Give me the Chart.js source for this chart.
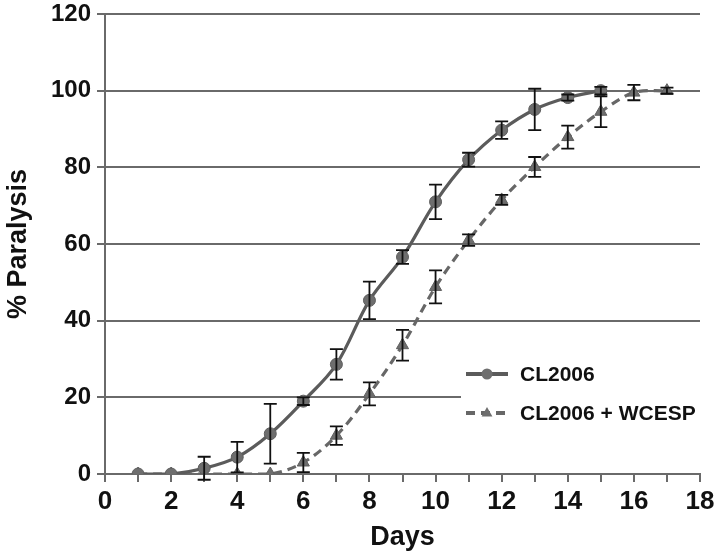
<!DOCTYPE html>
<html>
<head>
<meta charset="utf-8">
<script src="https://cdn.jsdelivr.net/npm/chart.js@4.4.1/dist/chart.umd.min.js"></script>
<style>
  html, body { margin: 0; padding: 0; background: #ffffff; }
  #wrap { width: 720px; height: 558px; position: relative; }
</style>
</head>
<body>
<div id="wrap"><canvas id="c" width="720" height="558"></canvas></div>
<script>
// ---- data ----
const daysCL = [1, 2, 3, 4, 5, 6, 7, 8, 9, 10, 11, 12, 13, 14, 15];
const cl2006 = [0, 0, 1.5, 4.4, 10.5, 19, 28.6, 45.3, 56.6, 71, 82, 89.7, 95.1, 98.2, 100];
const cl2006Err = [0, 0, 3, 4, 7.8, 1, 4, 4.9, 1.8, 4.5, 1.8, 2.3, 5.4, 0.8, 1];

const daysW = [1, 2, 3, 4, 5, 6, 7, 8, 9, 10, 11, 12, 13, 14, 15, 16, 17];
const wcesp = [0, 0, 0, 0, 0, 3, 10, 20.9, 33.6, 48.8, 61, 71.5, 80.1, 87.9, 94.5, 99.5, 100];
const wcespErr = [0, 0, 0, 0, 0, 2.5, 2.4, 3, 4, 4.3, 1.5, 1.3, 2.6, 3, 4, 2, 0.8];

const seriesLabels = ['CL2006', 'CL2006 + WCESP'];
const xTicks = [0, 2, 4, 6, 8, 10, 12, 14, 16, 18];
const yTicks = [0, 20, 40, 60, 80, 100, 120];

const FONT = "'Liberation Sans', Arial, sans-serif";
const LINE = '#5b5b5b';
const MARK = '#6e6e6e';
const GRID = '#6a6a6a';

const toXY = (xs, ys) => xs.map((x, i) => ({ x: x, y: ys[i] }));

// error bars drawn through the chart scales
const errorBars = {
  id: 'errorBars',
  afterDatasetsDraw(chart) {
    const ctx = chart.ctx;
    const xs = chart.scales.x, ys = chart.scales.y;
    ctx.save();
    ctx.strokeStyle = '#111111';
    ctx.lineWidth = 1.8;
    chart.data.datasets.forEach(ds => {
      (ds.errors || []).forEach((e, i) => {
        if (!e) return;
        const p = ds.data[i];
        const px = xs.getPixelForValue(p.x);
        const top = ys.getPixelForValue(p.y + e);
        const bot = ys.getPixelForValue(p.y - e);
        ctx.beginPath();
        ctx.moveTo(px, top); ctx.lineTo(px, bot);
        ctx.moveTo(px - 6.5, top); ctx.lineTo(px + 6.5, top);
        ctx.moveTo(px - 6.5, bot); ctx.lineTo(px + 6.5, bot);
        ctx.stroke();
      });
    });
    ctx.restore();
  }
};

// legend in the lower right of the plot, drawn from dataset styles
const customLegend = {
  id: 'customLegend',
  afterDraw(chart) {
    const ctx = chart.ctx;
    const x0 = 466, x1 = 508, tx = 520;
    const rows = [374, 413];
    ctx.save();
    ctx.fillStyle = '#ffffff';
    ctx.fillRect(461, 348, 245, 88);
    chart.data.datasets.forEach((ds, i) => {
      const y = rows[i];
      ctx.strokeStyle = ds.borderColor;
      ctx.lineWidth = ds.borderWidth + 0.8;
      ctx.setLineDash(ds.borderDash || []);
      ctx.beginPath(); ctx.moveTo(x0, y); ctx.lineTo(x1, y); ctx.stroke();
      ctx.setLineDash([]);
      ctx.fillStyle = ds.pointBackgroundColor;
      const cx = (x0 + x1) / 2;
      ctx.beginPath();
      if (ds.pointStyle === 'triangle') {
        const r = 6;
        ctx.moveTo(cx, y - r); ctx.lineTo(cx + r * 0.9, y + r * 0.6); ctx.lineTo(cx - r * 0.9, y + r * 0.6);
        ctx.closePath();
      } else {
        ctx.arc(cx, y, 5.5, 0, Math.PI * 2);
      }
      ctx.fill();
      ctx.fillStyle = '#111111';
      ctx.font = "bold 21px " + FONT;
      ctx.textBaseline = 'middle';
      ctx.fillText(ds.label, tx, y + 1);
    });
    ctx.restore();
  }
};

new Chart(document.getElementById('c'), {
  type: 'line',
  data: {
    datasets: [
      {
        label: seriesLabels[0],
        data: toXY(daysCL, cl2006),
        errors: cl2006Err,
        borderColor: LINE,
        borderWidth: 3.2,
        pointStyle: 'circle',
        pointRadius: 6,
        pointBackgroundColor: MARK,
        pointBorderColor: '#5e5e5e',
        pointBorderWidth: 1,
        tension: 0.35,
        fill: false
      },
      {
        label: seriesLabels[1],
        data: toXY(daysW, wcesp),
        errors: wcespErr,
        borderColor: '#676767',
        borderWidth: 3.2,
        borderDash: [9, 6],
        pointStyle: 'triangle',
        pointRadius: 7,
        pointBackgroundColor: MARK,
        pointBorderColor: '#5e5e5e',
        pointBorderWidth: 1,
        tension: 0.35,
        fill: false
      }
    ]
  },
  options: {
    responsive: false,
    animation: false,
    devicePixelRatio: 1,
    layout: { padding: { top: 14, right: 20, left: 0, bottom: 0 } },
    plugins: {
      legend: { display: false },
      tooltip: { enabled: false }
    },
    scales: {
      x: {
        type: 'linear',
        min: 0, max: 18,
        afterFit: s => { s.height = 84; s.paddingLeft = 0; s.paddingRight = 0; },
        afterBuildTicks: s => {
          const t = [];
          for (let v = 0; v <= 18; v++) t.push({ value: v });
          s.ticks = t;
        },
        grid: { drawOnChartArea: false, drawTicks: true, tickLength: 8, color: GRID, lineWidth: 2 },
        border: { display: true, color: GRID, width: 2 },
        ticks: {
          autoSkip: false,
          maxRotation: 0,
          padding: 4,
          color: '#111111',
          font: { family: FONT, size: 26, weight: 'bold' },
          callback: v => (xTicks.includes(v) ? String(v) : '')
        },
        title: {
          display: true,
          text: 'Days',
          color: '#111111',
          font: { family: FONT, size: 27, weight: 'bold' },
          padding: { top: 0, bottom: 4 }
        }
      },
      y: {
        min: 0, max: 120,
        afterFit: s => { s.width = 105; s.paddingTop = 0; s.paddingBottom = 0; },
        afterBuildTicks: s => { s.ticks = yTicks.map(v => ({ value: v })); },
        grid: { drawOnChartArea: true, drawTicks: true, tickLength: 8, color: GRID, lineWidth: 2 },
        border: { display: true, color: GRID, width: 2 },
        ticks: {
          padding: 6,
          color: '#111111',
          font: { family: FONT, size: 24, weight: 'bold' }
        },
        title: {
          display: true,
          text: '% Paralysis',
          color: '#111111',
          font: { family: FONT, size: 27, weight: 'bold' },
          padding: { top: 2, bottom: 0 }
        }
      }
    }
  },
  plugins: [errorBars, customLegend]
});
</script>
</body>
</html>
